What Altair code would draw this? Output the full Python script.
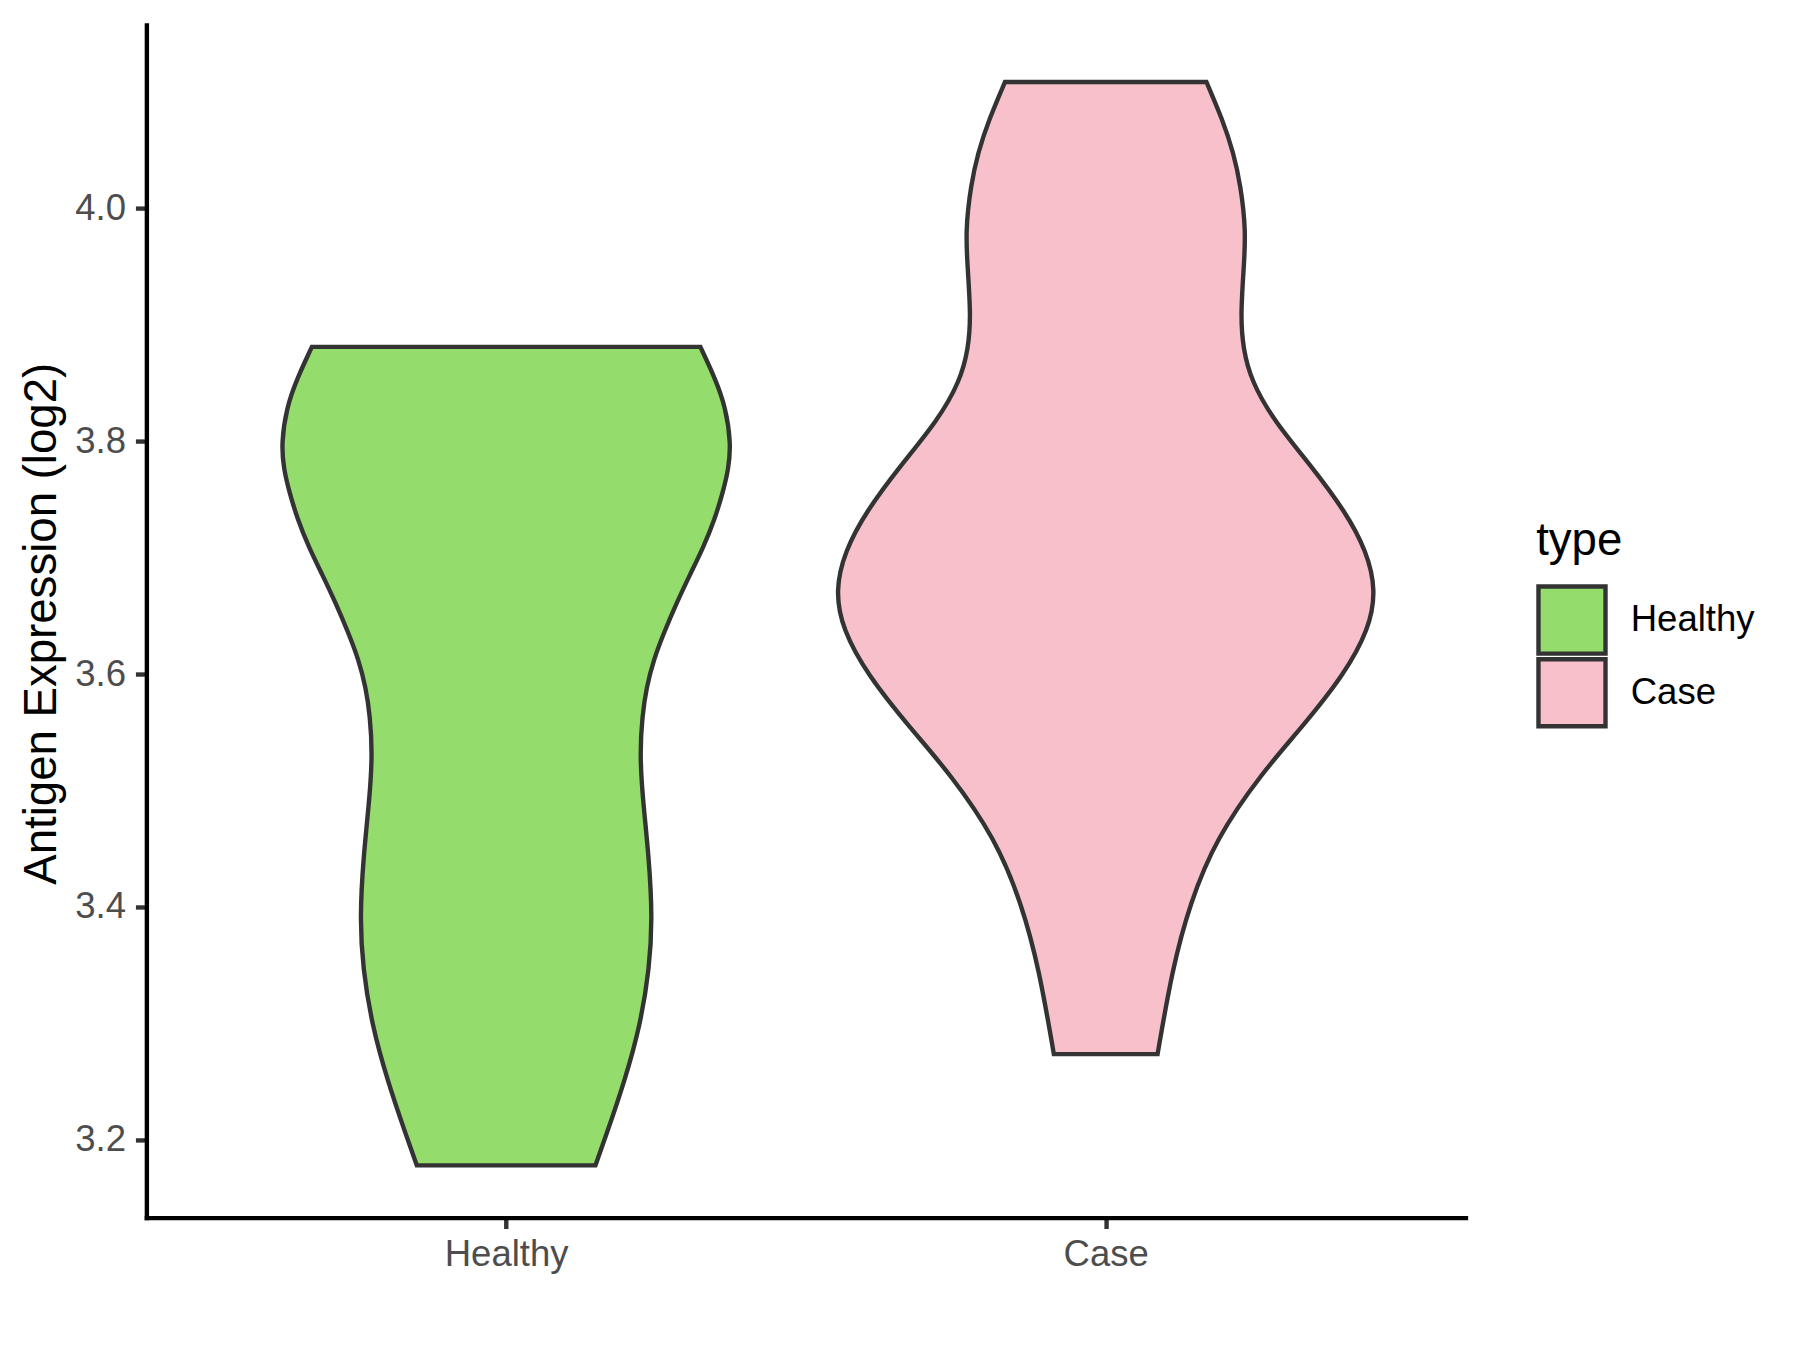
import altair as alt
import pandas as pd

categories = ["Healthy", "Case"]
fill_colors = ["#94DC6B", "#F8C0CB"]

# violin outline profiles: expression value and half-width (x units)
healthy_value = [3.178, 3.2026, 3.2508, 3.2990, 3.3472, 3.3906, 3.4437, 3.4919, 3.5305,
                 3.5642, 3.5883, 3.6124, 3.6365, 3.6607, 3.6848, 3.7089, 3.7330, 3.7571,
                 3.7764, 3.7981, 3.8294, 3.8535, 3.881]
healthy_halfwidth = [0.149, 0.166, 0.198, 0.224, 0.239, 0.244, 0.238, 0.228, 0.223,
                     0.227, 0.234, 0.246, 0.264, 0.284, 0.306, 0.329, 0.348, 0.362,
                     0.371, 0.375, 0.366, 0.349, 0.324]

case_value = [3.2735, 3.3464, 3.4025, 3.4587, 3.5148, 3.5541, 3.5990, 3.6383, 3.6720,
              3.7057, 3.7393, 3.7786, 3.8179, 3.8516, 3.8796, 3.9077, 3.9470, 3.9806,
              4.0199, 4.0480, 4.0760, 4.1086]
case_halfwidth = [0.0865, 0.111, 0.140, 0.184, 0.260, 0.327, 0.397, 0.439, 0.451,
                  0.435, 0.400, 0.343, 0.280, 0.243, 0.229, 0.225, 0.230, 0.234,
                  0.225, 0.213, 0.195, 0.168]

y_ticks = [3.2, 3.4, 3.6, 3.8, 4.0]

rows = []
for cat, vals, hws in [("Healthy", healthy_value, healthy_halfwidth),
                       ("Case", case_value, case_halfwidth)]:
    for v, h in zip(vals, hws):
        rows.append({"type": cat, "value": v, "hw": h})
df = pd.DataFrame(rows)

FONT = "Liberation Sans"

chart = alt.Chart(df).transform_calculate(
    pos="indexof(['Healthy', 'Case'], datum.type) + 1"
).transform_calculate(
    lo="datum.pos - datum.hw",
    hi="datum.pos + datum.hw",
).mark_area(
    orient="horizontal",
    interpolate="basis",
    stroke="#333333",
    strokeWidth=4.4,
    opacity=1,
    fillOpacity=1,
).encode(
    y=alt.Y("value:Q",
            scale=alt.Scale(domain=[3.1331, 4.1576], nice=False, zero=False),
            axis=alt.Axis(values=y_ticks, format=".1f", title="Antigen Expression (log2)",
                          labelPadding=10, titleX=-91, titleY=601, titleAngle=270,
                          titleBaseline="alphabetic", titleAlign="center")),
    x=alt.X("lo:Q",
            scale=alt.Scale(domain=[0.4, 2.6], nice=False, zero=False),
            stack=False,
            axis=alt.Axis(values=[1, 2], labelExpr="datum.value == 1 ? 'Healthy' : 'Case'",
                          title=None, labelPadding=8.5)),
    x2="hi:Q",
    fill=alt.Fill("type:N",
                  scale=alt.Scale(domain=categories, range=fill_colors),
                  legend=alt.Legend(title="type", orient="none", legendX=1396, legendY=496,
                                    symbolType="square", symbolSize=4533,
                                    symbolStrokeColor="#333333", symbolStrokeWidth=4.4,
                                    symbolOpacity=1, labelFontSize=36.7, labelFont=FONT,
                                    labelColor="black", titleFontSize=45.8, titleFont=FONT,
                                    titleFontWeight="normal", titleColor="black",
                                    titlePadding=20, rowPadding=-13, labelOffset=23,
                                    gridAlign="none", padding=0)),
).properties(
    width=1325,
    height=1198,
    autosize=alt.AutoSizeParams(type="none"),
    padding={"left": 139, "top": 14, "right": 328, "bottom": 130},
).configure_view(
    strokeWidth=0
).configure_axis(
    grid=False,
    domainColor="black",
    domainWidth=4.4,
    domainCap="square",
    tickColor="#333333",
    tickWidth=4.4,
    tickSize=11,
    labelFont=FONT,
    labelFontSize=36.7,
    labelColor="#4D4D4D",
    titleFont=FONT,
    titleFontSize=45.8,
    titleFontWeight="normal",
    titleColor="black",
)

chart.save("out.html", embed_options={"renderer": "svg", "actions": False})
